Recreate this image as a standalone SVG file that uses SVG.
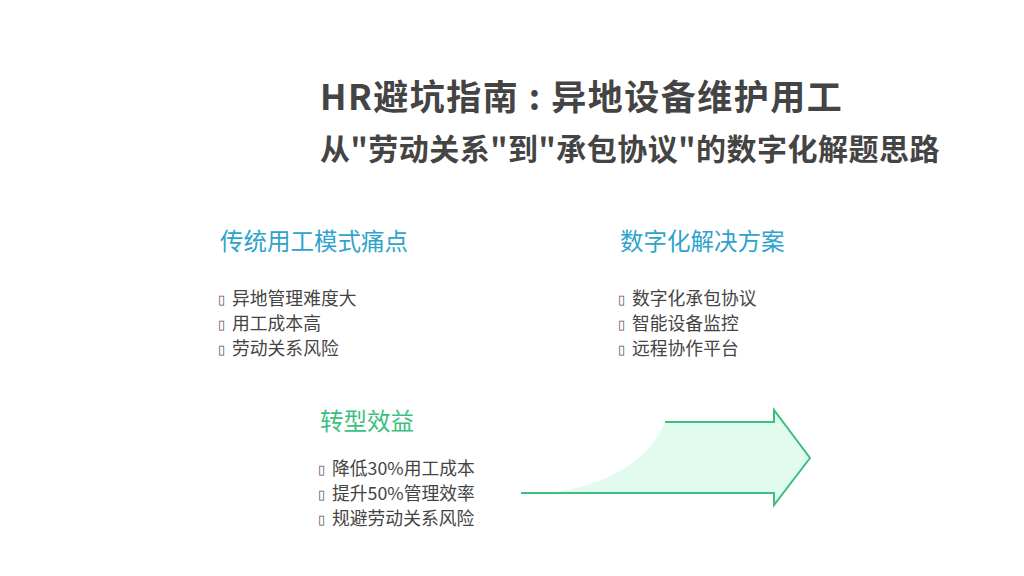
<svg xmlns="http://www.w3.org/2000/svg" width="1024" height="576" viewBox="0 0 1024 576">
<style>
text{font-family:"Noto Sans CJK SC","Noto Sans",sans-serif}
.t{font-size:35px;font-weight:bold;fill:#444;letter-spacing:1.5px}
.s{font-size:30px;font-weight:bold;fill:#444;letter-spacing:0.5px}
.h{font-size:23.5px;fill:#2ea3cc}
.g{font-size:23.5px;fill:#3cbf80}
.i{font-size:17.8px;fill:#444}
.b{font-size:13px;fill:#555}
</style>
<rect width="1024" height="576" fill="#fff"/>
<g id="title"><text class="t" x="320" y="110">HR避坑指南 : 异地设备维护用工</text>
<text class="s" x="320" y="160">从"劳动关系"到"承包协议"的数字化解题思路</text></g>
<g id="pain"><text class="h" x="220" y="250">传统用工模式痛点</text>
<text class="b" x="218" y="304">▯</text><text class="i" x="232" y="305">异地管理难度大</text>
<text class="b" x="218" y="329">▯</text><text class="i" x="232" y="330">用工成本高</text>
<text class="b" x="218" y="354">▯</text><text class="i" x="232" y="355">劳动关系风险</text></g>
<g id="solution"><text class="h" x="620" y="250">数字化解决方案</text>
<text class="b" x="618" y="304">▯</text><text class="i" x="632" y="305">数字化承包协议</text>
<text class="b" x="618" y="329">▯</text><text class="i" x="632" y="330">智能设备监控</text>
<text class="b" x="618" y="354">▯</text><text class="i" x="632" y="355">远程协作平台</text></g>
<g id="benefit"><text class="g" x="320" y="430">转型效益</text>
<text class="b" x="318" y="474">▯</text><text class="i" x="332" y="475">降低30%用工成本</text>
<text class="b" x="318" y="499">▯</text><text class="i" x="332" y="500">提升50%管理效率</text>
<text class="b" x="318" y="524">▯</text><text class="i" x="332" y="525">规避劳动关系风险</text></g>
<g id="connectors">
<path d="M550,493 Q640,480 665,422 L774,422 L774,410 L810,458 L774,505 L774,493 Z" fill="#e2fbef"/>
<path d="M521,493 L774,493 L774,505 L810,458 L774,410 L774,422 L665,422" fill="none" stroke="#3cbf80" stroke-width="2"/>
</g>
</svg>
